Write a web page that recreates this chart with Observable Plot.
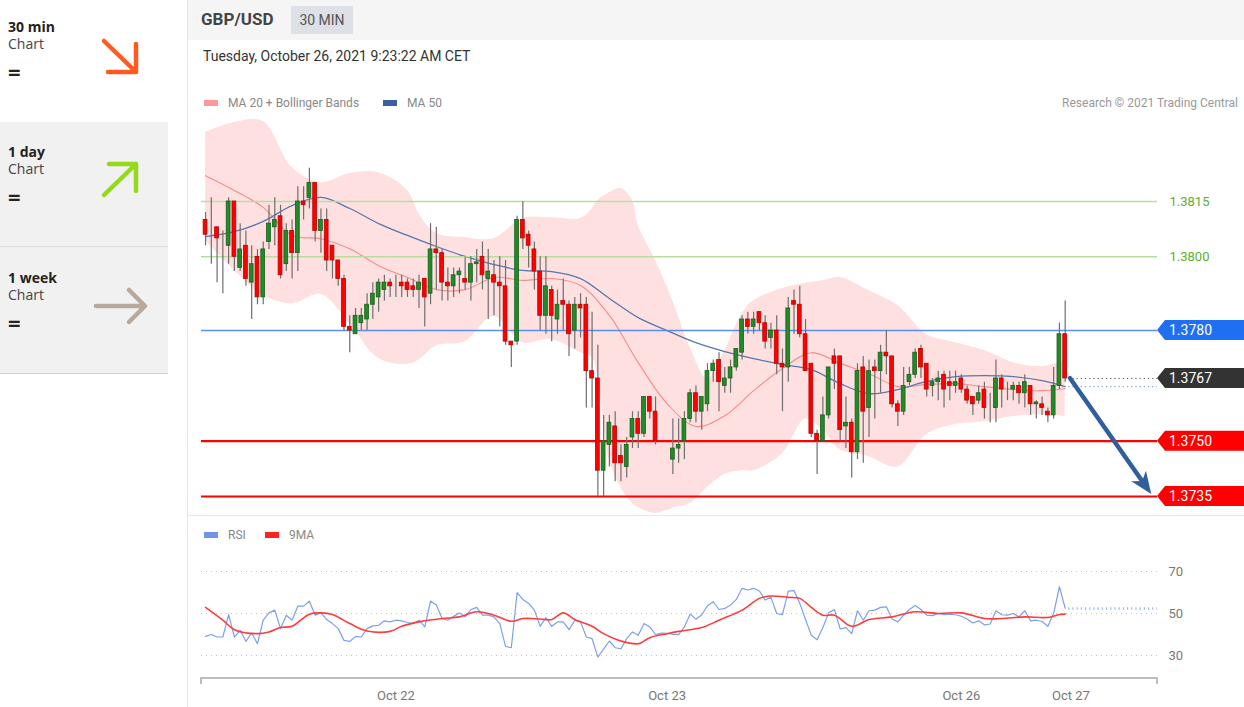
<!DOCTYPE html>
<html>
<head>
<meta charset="utf-8">
<script src="https://cdn.jsdelivr.net/npm/d3@7"></script>
<script src="https://cdn.jsdelivr.net/npm/@observablehq/plot@0.6"></script>
<style>
  html, body { margin: 0; padding: 0; background: #fff; width: 1244px; height: 707px; overflow: hidden; font-family: Roboto, "Noto Sans", sans-serif; }
  .abs { position: absolute; }
  .side { font-family: "Open Sans", "Noto Sans", sans-serif; }
  .st1 { position: absolute; left: 8px; font-size: 14px; font-weight: 700; color: #222; line-height: 17px; }
  .st2 { position: absolute; left: 8px; font-size: 14px; color: #444; line-height: 17px; }
  .st3 { position: absolute; left: 8px; font-size: 22px; font-weight: 700; color: #222; line-height: 22px; }
  .leg { position: absolute; font-size: 12px; color: #888; line-height: 14px; white-space: nowrap; }
  .sw { display: inline-block; width: 14px; height: 6px; vertical-align: middle; margin-right: 10px; position: relative; top: -1px; }
</style>
</head>
<body>
<!-- sidebar -->
<div class="abs side" style="left:0;top:0;width:168px;height:121px;background:#fff"></div>
<div class="abs side" style="left:0;top:122px;width:168px;height:124px;background:#f1f1f1"></div>
<div class="abs side" style="left:0;top:246px;width:168px;height:1px;background:#dcdcdc"></div>
<div class="abs side" style="left:0;top:247px;width:168px;height:126px;background:#f1f1f1"></div>
<div class="abs side" style="left:0;top:373px;width:168px;height:1px;background:#d0d0d0"></div>
<div class="side">
  <div class="st1" style="top:18px">30 min</div>
  <div class="st2" style="top:35px">Chart</div>
  <div class="st3" style="top:60px">=</div>
  <div class="st1" style="top:143px">1 day</div>
  <div class="st2" style="top:160px">Chart</div>
  <div class="st3" style="top:185px">=</div>
  <div class="st1" style="top:269px">1 week</div>
  <div class="st2" style="top:286px">Chart</div>
  <div class="st3" style="top:311px">=</div>
</div>
<svg class="abs" style="left:0;top:0" width="168" height="373">
  <g fill="none" stroke-linecap="round" stroke-linejoin="round" stroke-width="4.5">
    <path d="M104,41L136,72M108,72L136,72L136,44" stroke="#ff5a1f"/>
    <path d="M104,195L136,164M109,164L136,164L136,191" stroke="#95d81c"/>
    <path d="M96,306L144,306M129,290L145,306L129,322" stroke="#b9a99d"/>
  </g>
</svg>
<div class="abs" style="left:187px;top:0;width:1px;height:707px;background:#e6e6e6"></div>

<!-- main panel -->
<div id="main" class="abs" style="left:188px;top:0;width:1056px;height:707px;">
  <div class="abs" style="left:0;top:0;width:1056px;height:40px;background:#f5f5f5"></div>
  <div class="abs" style="left:13px;top:9px;font-size:17px;font-weight:700;color:#444;line-height:20px">GBP/USD</div>
  <div class="abs" style="left:103px;top:6px;width:62px;height:28px;background:#dde0e6;color:#555;font-size:14px;line-height:28px;text-align:center">30 MIN</div>
  <div class="abs" style="left:15px;top:48px;font-size:14px;color:#333;line-height:17px">Tuesday, October 26, 2021 9:23:22 AM CET</div>
  <div id="price" class="abs" style="left:0;top:90px"></div>
  <div class="abs" style="left:0;top:515px;width:1056px;height:1px;background:#e8e8e8"></div>
  <div id="rsi" class="abs" style="left:0;top:515px"></div>
  <div class="leg" style="left:16px;top:96px"><span class="sw" style="background:#f99"></span>MA 20 + Bollinger Bands</div>
  <div class="leg" style="left:195px;top:96px"><span class="sw" style="background:#3b5e9e"></span>MA 50</div>
  <div class="leg" style="right:6px;top:96px;color:#999">Research © 2021 Trading Central</div>
  <div class="leg" style="left:16px;top:528px"><span class="sw" style="background:#6f94e8"></span>RSI</div>
  <div class="leg" style="left:77px;top:528px"><span class="sw" style="background:#f22"></span>9MA</div>
</div>

<script>
// ---------------- data ----------------
const open = [1.3810,1.3807,1.3808,1.3805,1.3803,1.3815,1.3797,1.3803,1.3793,1.3800,
1.3789,1.3804,1.3808,1.3811,1.3798,1.3807,1.3801,1.3815,1.3816,1.3820,
1.3807,1.3810,1.3803,1.3799,1.3794,1.3781,1.3779,1.3782,1.3783,1.3787,
1.3789,1.3791,1.3793,1.3793,1.3793,1.3793,1.3792,1.3791,1.3794,1.3790,
1.3802,1.3801,1.3793,1.3792,1.3795,1.3794,1.3793,1.3798,1.3800,1.3794,
1.3795,1.3793,1.3792,1.3777,1.3777,1.3810,1.3806,1.3802,1.3796,1.3784,
1.3791,1.3783,1.3788,1.3787,1.3780,1.3787,1.3787,1.3769,1.3767,1.3742,
1.3749,1.3754,1.3746,1.3743,1.3751,1.3756,1.3752,1.3762,1.3758,1.3751,
1.3751,1.3745,1.3748,1.3750,1.3756,1.3763,1.3758,1.3760,1.3769,1.3772,
1.3765,1.3767,1.3770,1.3774,1.3783,1.3781,1.3785,1.3782,1.3778,1.3780,
1.3771,1.3770,1.3788,1.3787,1.3779,1.3771,1.3752,1.3750,1.3757,1.3773,
1.3773,1.3754,1.3755,1.3747,1.3770,1.3759,1.3770,1.3769,1.3774,1.3773,
1.3760,1.3758,1.3766,1.3768,1.3775,1.3771,1.3765,1.3766,1.3768,1.3766,
1.3765,1.3767,1.3764,1.3762,1.3761,1.3764,1.3759,1.3759,1.3767,1.3764,
1.3764,1.3765,1.3763,1.3765,1.3760,1.3760,1.3758,1.3757,1.3765,1.3779];
const high = [1.3812,1.3816,1.3808,1.3807,1.3816,1.3815,1.3809,1.3807,1.3803,1.3802,
1.3804,1.3814,1.3816,1.3814,1.3809,1.3810,1.3819,1.3819,1.3824,1.3820,
1.3813,1.3813,1.3803,1.3799,1.3795,1.3784,1.3786,1.3786,1.3790,1.3793,
1.3794,1.3795,1.3794,1.3795,1.3795,1.3794,1.3794,1.3795,1.3794,1.3809,
1.3808,1.3802,1.3797,1.3797,1.3797,1.3800,1.3800,1.3802,1.3804,1.3802,
1.3799,1.3800,1.3799,1.3777,1.3811,1.3815,1.3807,1.3804,1.3800,1.3800,
1.3792,1.3791,1.3794,1.3788,1.3789,1.3790,1.3789,1.3785,1.3776,1.3757,
1.3757,1.3758,1.3749,1.3751,1.3758,1.3758,1.3762,1.3762,1.3762,1.3751,
1.3751,1.3756,1.3756,1.3758,1.3764,1.3765,1.3762,1.3771,1.3772,1.3774,
1.3770,1.3772,1.3775,1.3784,1.3785,1.3785,1.3785,1.3784,1.3782,1.3784,
1.3775,1.3789,1.3791,1.3792,1.3783,1.3771,1.3753,1.3762,1.3770,1.3775,
1.3773,1.3762,1.3756,1.3771,1.3773,1.3772,1.3772,1.3776,1.3780,1.3773,
1.3761,1.3770,1.3770,1.3775,1.3776,1.3771,1.3767,1.3769,1.3769,1.3769,
1.3769,1.3768,1.3765,1.3762,1.3765,1.3766,1.3763,1.3772,1.3768,1.3766,
1.3766,1.3766,1.3768,1.3765,1.3761,1.3762,1.3759,1.3770,1.3782,1.3788];
const low = [1.3803,1.3798,1.3793,1.3790,1.3798,1.3796,1.3796,1.3792,1.3783,1.3787,
1.3787,1.3802,1.3803,1.3794,1.3796,1.3794,1.3796,1.3810,1.3813,1.3804,
1.3801,1.3796,1.3794,1.3792,1.3780,1.3774,1.3779,1.3780,1.3780,1.3783,
1.3785,1.3788,1.3789,1.3789,1.3789,1.3789,1.3789,1.3786,1.3781,1.3787,
1.3791,1.3788,1.3788,1.3789,1.3790,1.3791,1.3788,1.3793,1.3791,1.3783,
1.3784,1.3781,1.3776,1.3770,1.3776,1.3802,1.3797,1.3791,1.3780,1.3779,
1.3777,1.3779,1.3780,1.3773,1.3775,1.3778,1.3759,1.3759,1.3735,1.3735,
1.3743,1.3739,1.3739,1.3740,1.3748,1.3748,1.3751,1.3756,1.3749,1.3751,
1.3751,1.3741,1.3744,1.3745,1.3755,1.3755,1.3753,1.3758,1.3766,1.3758,
1.3763,1.3763,1.3769,1.3772,1.3779,1.3779,1.3780,1.3775,1.3775,1.3768,
1.3758,1.3766,1.3779,1.3778,1.3769,1.3751,1.3741,1.3750,1.3756,1.3764,
1.3750,1.3748,1.3740,1.3745,1.3744,1.3751,1.3756,1.3763,1.3768,1.3759,
1.3754,1.3757,1.3765,1.3767,1.3767,1.3762,1.3762,1.3761,1.3759,1.3761,
1.3763,1.3763,1.3760,1.3757,1.3760,1.3756,1.3755,1.3755,1.3759,1.3761,
1.3761,1.3760,1.3759,1.3757,1.3756,1.3757,1.3755,1.3756,1.3764,1.3766];
const close = [1.3806,1.3807,1.3805,1.3805,1.3815,1.3800,1.3802,1.3794,1.3798,1.3789,
1.3802,1.3809,1.3810,1.3795,1.3807,1.3801,1.3815,1.3814,1.3820,1.3807,
1.3810,1.3799,1.3799,1.3794,1.3781,1.3780,1.3784,1.3784,1.3787,1.3790,
1.3793,1.3793,1.3792,1.3793,1.3792,1.3791,1.3791,1.3793,1.3789,1.3802,
1.3801,1.3793,1.3792,1.3795,1.3796,1.3793,1.3798,1.37985,1.3795,1.3796,
1.3793,1.3792,1.3777,1.3776,1.3810,1.3805,1.3803,1.3796,1.3784,1.3792,
1.3784,1.3787,1.3787,1.3779,1.3787,1.3786,1.3769,1.3767,1.3742,1.3750,
1.3755,1.3744,1.3744,1.3749,1.3756,1.3752,1.3762,1.3758,1.3750,1.3751,
1.3751,1.3748,1.3749,1.3756,1.3763,1.3758,1.3762,1.3769,1.3771,1.3766,
1.3767,1.3770,1.3775,1.3783,1.3781,1.3783,1.3782,1.3777,1.3780,1.3771,
1.3770,1.3786,1.3787,1.3779,1.3769,1.3752,1.3750,1.3757,1.3770,1.3771,
1.3753,1.3755,1.3747,1.3769,1.3758,1.3769,1.3769,1.3774,1.3773,1.3760,
1.3758,1.3765,1.3768,1.3774,1.3770,1.3764,1.3766,1.3767,1.3764,1.3765,
1.3766,1.3764,1.3761,1.3760,1.3763,1.3759,1.3759,1.3767,1.3764,1.3764,
1.3765,1.3763,1.3766,1.3760,1.37605,1.3759,1.3757,1.3765,1.3779,1.3767];

// Bollinger band (MA 20 ± bands), read at sample candles
const bandIdx = [0,5,10,15,20,25,30,35,37,40,45,50,55,60,65,67,68,70,72,74,75,78,81,84,87,90,93,95,100,104,107,110,115,120,125,130,135,140,145,149];
const bandUpper = [1.38337,1.38364,1.38367,1.38242,1.38201,1.38226,1.38228,1.38180,1.38117,1.38063,1.38052,1.38049,1.38104,1.38106,1.38104,1.38130,1.38153,1.38174,1.38185,1.38153,1.38085,1.37990,1.37880,1.37754,1.37670,1.37746,1.37846,1.37881,1.37914,1.37928,1.37935,1.37944,1.37908,1.37868,1.37789,1.37767,1.37746,1.37713,1.37702,1.37719];
const bandLower = [1.38044,1.37963,1.37895,1.37873,1.37898,1.37819,1.37724,1.37708,1.37720,1.37759,1.37770,1.37838,1.37767,1.37776,1.37740,1.37727,1.37673,1.37450,1.37374,1.37331,1.37320,1.37304,1.37318,1.37331,1.37375,1.37410,1.37420,1.37420,1.37466,1.37560,1.37530,1.37477,1.37458,1.37430,1.37518,1.37545,1.37553,1.37567,1.37572,1.37567];

const maIdx = [0,5,10,15,20,25,30,35,40,45,50,55,60,65,70,75,80,85,90,95,100,105,110,115,120,125,130,135,140,145,149];
const ma20 = [1.38220,1.38180,1.38134,1.38058,1.38049,1.38022,1.37976,1.37944,1.37911,1.37911,1.37944,1.37936,1.37941,1.37922,1.37841,1.37713,1.37602,1.37540,1.37569,1.37637,1.37697,1.37740,1.37711,1.37683,1.37648,1.37654,1.37656,1.37648,1.37640,1.37637,1.37643];
const ma50 = [1.38055,1.38068,1.38096,1.38139,1.38161,1.38131,1.38090,1.38058,1.38028,1.38001,1.37979,1.37963,1.37960,1.37941,1.37887,1.37835,1.37800,1.37767,1.37743,1.37724,1.37708,1.37694,1.37656,1.37629,1.37640,1.37662,1.37675,1.37678,1.37675,1.37664,1.37648];

// Levels
const resistLevels = [1.3815, 1.3800];
const pivotLevel = 1.3780;
const supportLevels = [1.3750, 1.3735];
const target = 1.3735;

// RSI
const rsi = [39.1,40,38.8,38.8,49.5,38.8,42,36.7,40.7,35.6,
46.8,50.3,51.6,42.8,49.2,46.8,53.5,53.5,55.9,49.2,
50.3,47.1,45.2,42.8,37.2,36.7,39.1,38.8,42.8,44.1,
44.4,46.5,46,46.8,46.5,45.7,45.2,46.8,43.6,55.9,
54,47.6,46.8,48.7,50.3,48.4,51.9,52.9,49.2,49.2,
48.4,45.2,34.3,33.7,59.9,56.7,54.8,51.6,43.9,48.1,
43.9,46,46,42.3,46.8,46,38.8,38,29.2,33.2,
36.9,33.7,33.2,38,41.2,39.6,45.2,43.6,40,40.7,
40.6,40.1,39.9,43.6,49.7,47.3,49.4,53.7,55.6,51.9,
52.4,54,56.7,62,61.2,62,60.7,56.4,57.7,50,
49.5,60.7,60.9,54.8,47.1,39.6,37.5,43.3,50.3,51.9,
42.6,43.3,40.4,51.3,46.8,51.3,51.6,52.9,53.2,47.4,
46,49.2,51.9,53.8,51.9,49.2,49,50,49.5,49.7,
49.4,48.7,47.4,45.5,46.5,44.6,45,51.3,49.4,49.2,
50,48.4,51.3,46.5,46.8,46.2,43.9,50,62.8,52.4];
const rsiMaIdx = [0,3,5,9,11,13,15,18,20,22,25,28,32,34,37,41,44,47,50,53,55,58,60,62,64,67,69,72,75,77,80,82,86,89,93,96,98,101,103,105,107,109,112,115,119,123,127,131,135,138,142,146,148,149];
const rsiMa = [52.9,46.8,42.3,40.4,41.2,43.3,43.9,49.7,50.3,49.5,45.2,41.7,41.5,43.9,46,47.6,48.4,50.8,49.2,46.3,47.6,47.4,47.1,50.3,47.1,43.9,40.4,36.9,35.6,38.5,40.4,41.5,43.3,46.8,51.6,57.2,58.3,57.7,57.2,52.9,49.2,49.2,43.9,47.1,48.4,50.8,50,50.3,47.6,47.6,48.4,48.1,49.5,49.7];
const rsiTicks = [30, 50, 70];

// time axis (candle index of each date label)
const dateTickIdx = [33, 80, 131, 150];
const dateTickText = ["Oct 22", "Oct 23", "Oct 26", "Oct 27"];

// ---------------- layout ----------------
const W = 1056;
const xDomain = [-0.7, 165];
const mL = 13, mR = 87;
const font = "Roboto, 'Noto Sans', sans-serif";

const candles = open.map((o, i) => ({i, open: o, high: high[i], low: low[i], close: close[i]}));
const band = bandIdx.map((i, k) => ({i, up: bandUpper[k], lo: bandLower[k]}));
const ma20Data = maIdx.map((i, k) => ({i, v: ma20[k]}));
const ma50Data = maIdx.map((i, k) => ({i, v: ma50[k]}));
const last = candles[candles.length - 1];
const lastIdx = last.i;
const bodyFill = d => d.close > d.open ? "#228a28" : d.close < d.open ? "#ff0000" : "#555";
const bodyStroke = d => d.close > d.open ? "#17601b" : d.close < d.open ? "#b80000" : "#555";

const tags = [
  {value: pivotLevel, color: "#1f6ff2"},
  {value: last.close, color: "#333333"},
  {value: supportLevels[0], color: "#ff0000"},
  {value: supportLevels[1], color: "#ff0000"}
];

function tagMark(index, scales, values, dims) {
  const g = d3.create("svg:g");
  const x0 = dims.width - dims.marginRight;
  for (const t of tags) {
    const y = scales.y(t.value);
    g.append("path")
      .attr("d", `M${x0},${y}L${x0 + 8},${y - 10}H${dims.width}V${y + 10}H${x0 + 8}Z`)
      .attr("fill", t.color);
    g.append("text")
      .attr("x", x0 + 12).attr("y", y).attr("dy", "0.36em")
      .attr("text-anchor", "start")
      .attr("fill", "#fff").attr("font-size", 14).attr("font-family", font)
      .text(t.value.toFixed(4));
  }
  return g.node();
}

function arrowMark(index, scales) {
  const x1 = scales.x(lastIdx + 0.9), y1 = scales.y(last.close);
  const x2 = scales.x(164), y2 = scales.y(target) - 2;
  const a = Math.atan2(y2 - y1, x2 - x1);
  const L = 22, Wd = 9;
  const ux = Math.cos(a), uy = Math.sin(a), px = -uy, py = ux;
  const bx = x2 - ux * L, by = y2 - uy * L;
  const nx = x2 - ux * L * 0.72, ny = y2 - uy * L * 0.72;
  const g = d3.create("svg:g");
  g.append("path")
    .attr("d", `M${x1},${y1}L${nx},${ny}`)
    .attr("stroke", "#30609c").attr("stroke-width", 4.5).attr("stroke-linecap", "round").attr("fill", "none");
  g.append("path")
    .attr("d", `M${x2},${y2}L${bx + px * Wd},${by + py * Wd}L${nx},${ny}L${bx - px * Wd},${by - py * Wd}Z`)
    .attr("fill", "#30609c");
  return g.node();
}

const price = Plot.plot({
  width: W, height: 425,
  marginLeft: mL, marginRight: mR, marginTop: 0, marginBottom: 0,
  style: {background: "transparent", overflow: "visible", fontFamily: font},
  x: {domain: xDomain, axis: null},
  y: {domain: [1.3735, 1.3815], range: [406, 111], axis: null},
  marks: [
    Plot.areaY(band, {x: "i", y1: "lo", y2: "up", fill: "#ffe0e0", curve: "catmull-rom"}),
    Plot.line(ma20Data, {x: "i", y: "v", stroke: "#f58c8c", strokeWidth: 1.1, curve: "catmull-rom"}),
    Plot.line(ma50Data, {x: "i", y: "v", stroke: "#5877ae", strokeWidth: 1.3, curve: "catmull-rom"}),
    Plot.ruleY(resistLevels, {stroke: "#b9dd9e", strokeWidth: 1.6}),
    Plot.ruleY([pivotLevel], {stroke: "#5a8ef0", strokeWidth: 1.6}),
    Plot.ruleY(supportLevels, {stroke: "#ff0000", strokeWidth: 2.2}),
    Plot.ruleX(candles, {x: "i", y1: "low", y2: "high", stroke: "#6e6e6e", strokeWidth: 1.2}),
    Plot.rect(candles, {x1: d => d.i - 0.33, x2: d => d.i + 0.33, y1: "open", y2: "close", fill: bodyFill, stroke: bodyStroke, strokeWidth: 0.8}),
    Plot.ruleY([last.close], {x1: lastIdx + 0.6, x2: xDomain[1], stroke: "#555", strokeWidth: 1.2, strokeDasharray: "1.2,3"}),
    Plot.ruleY([ma50[ma50.length - 1]], {x1: lastIdx + 0.6, x2: xDomain[1], stroke: "#7f9fd8", strokeWidth: 1.2, strokeDasharray: "1.2,3"}),
    Plot.text(resistLevels, {y: d => d, text: d => d.toFixed(4), frameAnchor: "right", dx: 12, textAnchor: "start", fill: "#5fae2c", fontSize: 13}),
    tagMark,
    arrowMark
  ]
});
document.getElementById("price").appendChild(price);

const rsiData = rsi.map((v, i) => ({i, v}));
const rsiMaData = rsiMaIdx.map((i, k) => ({i, v: rsiMa[k]}));
const tickLabel = new Map(dateTickIdx.map((d, k) => [d, dateTickText[k]]));

function axisLine(index, scales, values, dims) {
  const y0 = dims.height - dims.marginBottom;
  const xa = dims.marginLeft, xb = dims.width - dims.marginRight;
  const g = d3.create("svg:g");
  g.append("path")
    .attr("d", `M${xa},${y0 + 6}V${y0}H${xb}V${y0 + 6}`)
    .attr("fill", "none").attr("stroke", "#bdbdbd").attr("stroke-width", 2);
  return g.node();
}

const rsiPlot = Plot.plot({
  width: W, height: 192,
  marginLeft: mL, marginRight: mR, marginTop: 0, marginBottom: 29,
  style: {background: "transparent", overflow: "visible", fontFamily: font, fontSize: "13px", color: "#777"},
  x: {domain: xDomain, ticks: dateTickIdx, tickFormat: d => tickLabel.get(d), tickSize: 0, tickPadding: 12, label: null},
  y: {domain: [30, 70], range: [140, 56], axis: "right", ticks: rsiTicks, tickSize: 0, tickPadding: 11, label: null},
  marks: [
    Plot.ruleY(rsiTicks, {stroke: "#c4c4c4", strokeWidth: 1, strokeDasharray: "1,4"}),
    Plot.line(rsiData, {x: "i", y: "v", stroke: "#7d9eee", strokeWidth: 1.2}),
    Plot.line(rsiMaData, {x: "i", y: "v", stroke: "#ff3b3b", strokeWidth: 1.6, curve: "catmull-rom"}),
    Plot.ruleY([rsi[rsi.length - 1]], {x1: lastIdx + 0.6, x2: xDomain[1], stroke: "#9fb8f2", strokeWidth: 2.5, strokeDasharray: "1.2,3"}),
    axisLine
  ]
});
document.getElementById("rsi").appendChild(rsiPlot);
</script>
</body>
</html>
